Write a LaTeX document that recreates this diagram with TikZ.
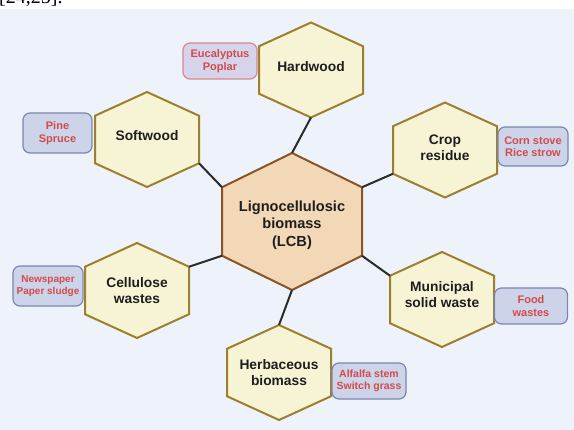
\documentclass[tikz,border=0pt]{standalone}
\usepackage{fontspec}
\setmainfont{Liberation Sans}
\newfontfamily\refserif{Liberation Serif}
\makeatletter
\newdimen\hexXa \newdimen\hexXb \newdimen\hexXc
\newdimen\hexYa \newdimen\hexYb \newdimen\hexYc \newdimen\hexYd \newdimen\hexYe
\pgfdeclareshape{hexa}{
  \inheritsavedanchors[from=rectangle]
  \inheritanchorborder[from=rectangle]
  \inheritanchor[from=rectangle]{center}
  \inheritanchor[from=rectangle]{north}
  \inheritanchor[from=rectangle]{south}
  \inheritanchor[from=rectangle]{east}
  \inheritanchor[from=rectangle]{west}
  \inheritanchor[from=rectangle]{text}
  \inheritanchor[from=rectangle]{base}
  \inheritanchor[from=rectangle]{mid}
  \anchor{ur}{\southwest \hexYa=\pgf@y \northeast \hexYc=\pgf@y \advance\hexYc by -\hexYa \advance\pgf@y by -.25\hexYc}
  \anchor{lr}{\southwest \hexYa=\pgf@y \northeast \hexYc=\pgf@y \advance\hexYc by -\hexYa \pgf@y=\hexYa \advance\pgf@y by .25\hexYc}
  \anchor{ul}{\northeast \hexYb=\pgf@y \southwest \hexYc=\hexYb \advance\hexYc by -\pgf@y \pgf@y=\hexYb \advance\pgf@y by -.25\hexYc}
  \anchor{ll}{\northeast \hexYb=\pgf@y \southwest \hexYc=\hexYb \advance\hexYc by -\pgf@y \advance\pgf@y by .25\hexYc}
  \backgroundpath{
    \southwest \hexXa=\pgf@x \hexYa=\pgf@y
    \northeast \hexXb=\pgf@x \hexYb=\pgf@y
    \hexXc=.5\hexXa \advance\hexXc by .5\hexXb
    \hexYc=\hexYb \advance\hexYc by -\hexYa \hexYc=.25\hexYc
    \hexYd=\hexYb \advance\hexYd by -\hexYc
    \hexYe=\hexYa \advance\hexYe by \hexYc
    \pgfpathmoveto{\pgfqpoint{\hexXc}{\hexYb}}
    \pgfpathlineto{\pgfqpoint{\hexXb}{\hexYd}}
    \pgfpathlineto{\pgfqpoint{\hexXb}{\hexYe}}
    \pgfpathlineto{\pgfqpoint{\hexXc}{\hexYa}}
    \pgfpathlineto{\pgfqpoint{\hexXa}{\hexYe}}
    \pgfpathlineto{\pgfqpoint{\hexXa}{\hexYd}}
    \pgfpathclose
  }
}
\makeatother
% raise text: strut of depth #1 in the last line
\newcommand{\txtup}[1]{\rule[-#1]{0pt}{#1}}
\definecolor{bgblue}{HTML}{EEF3FB}
\definecolor{hexfill}{HTML}{F7F4D6}
\definecolor{hexborder}{HTML}{9D7F2C}
\definecolor{mainfill}{HTML}{F2D8B6}
\definecolor{mainborder}{HTML}{8A5424}
\definecolor{tagfill}{HTML}{CDD3E9}
\definecolor{tagborder}{HTML}{7C87AC}
\definecolor{pinkborder}{HTML}{D9878C}
\definecolor{pinkfill}{HTML}{D5D4EA}
\definecolor{tagred}{HTML}{D24B4B}
\definecolor{textdark}{HTML}{1E1E1E}
\definecolor{linkdark}{HTML}{2B2B2B}
\tikzset{
  hexsmall/.style={shape=hexa, draw=hexborder, fill=hexfill, line width=2pt,
    minimum width=104pt, minimum height=95pt, inner sep=0pt, outer sep=0pt,
    align=center, text=textdark, font=\fontsize{13.8}{16}\selectfont\bfseries},
  hexmain/.style={hexsmall, draw=mainborder, fill=mainfill,
    minimum width=140pt, minimum height=137pt,
    font=\fontsize{14.6}{17.5}\selectfont\bfseries},
  tagbox/.style={draw=tagborder, fill=tagfill, rounded corners=7pt, line width=1.2pt,
    inner sep=0pt, minimum width=72pt, minimum height=37pt, align=center,
    text=tagred, font=\fontsize{11}{12.5}\selectfont\bfseries},
  link/.style={draw=linkdark, line width=2pt}
}
\begin{document}
\begin{tikzpicture}[x=1pt,y=-1pt]
\useasboundingbox (0,0) rectangle (574,430);
\clip (0,0) rectangle (574,430);
\fill[white] (0,0) rectangle (574,9);
\node[anchor=base west, inner sep=0pt, font=\refserif\fontsize{20}{20}\selectfont] (refnote) at (-1,3.5) {[24,25].};
\fill[bgblue] (0,9) rectangle (574,430);

\node[hexmain] (lcb) at (292,221.5) {\rule{0pt}{17.6pt}Lignocellulosic\\biomass\\(LCB)};
\node[hexsmall] (hard) at (311,70) {Hardwood\txtup{6pt}};
\node[hexsmall] (soft) at (147,139.5) {Softwood\txtup{7pt}};
\node[hexsmall] (crop) at (445,150) {Crop\\residue\txtup{5pt}};
\node[hexsmall] (cell) at (137,290.5) {Cellulose\\wastes};
\node[hexsmall] (muni) at (442,299.5) {Municipal\\solid waste\txtup{9pt}};
\node[hexsmall] (herb) at (279,372.5) {Herbaceous\\biomass};

\node[tagbox, draw=pinkborder, fill=pinkfill, minimum width=74pt, minimum height=36pt] (euc) at (220,61) {Eucalyptus\\Poplar};
\node[tagbox, minimum width=69pt, minimum height=40pt] (pine) at (57.5,133) {Pine\\Spruce};
\node[tagbox, minimum width=70pt, minimum height=39pt] (corn) at (533,146.5) {Corn stove\\Rice strow};
\node[tagbox, minimum width=70pt, minimum height=40pt, font=\fontsize{10}{12}\selectfont\bfseries] (news) at (48,286) {Newspaper\\Paper sludge};
\node[tagbox, minimum width=73pt, minimum height=36pt] (food) at (531,306) {Food\\wastes};
\node[tagbox, minimum width=74pt, minimum height=36pt, font=\fontsize{10.5}{12.5}\selectfont\bfseries] (alf) at (369,381) {Alfalfa stem\\Switch grass};

\draw[link] (hard.south) -- (lcb.north);
\draw[link] (soft.lr) -- (lcb.ul);
\draw[link] (crop.ll) -- (lcb.ur);
\draw[link] (cell.ur) -- (lcb.ll);
\draw[link] (muni.ul) -- (lcb.lr);
\draw[link] (herb.north) -- (lcb.south);
\end{tikzpicture}
\end{document}
